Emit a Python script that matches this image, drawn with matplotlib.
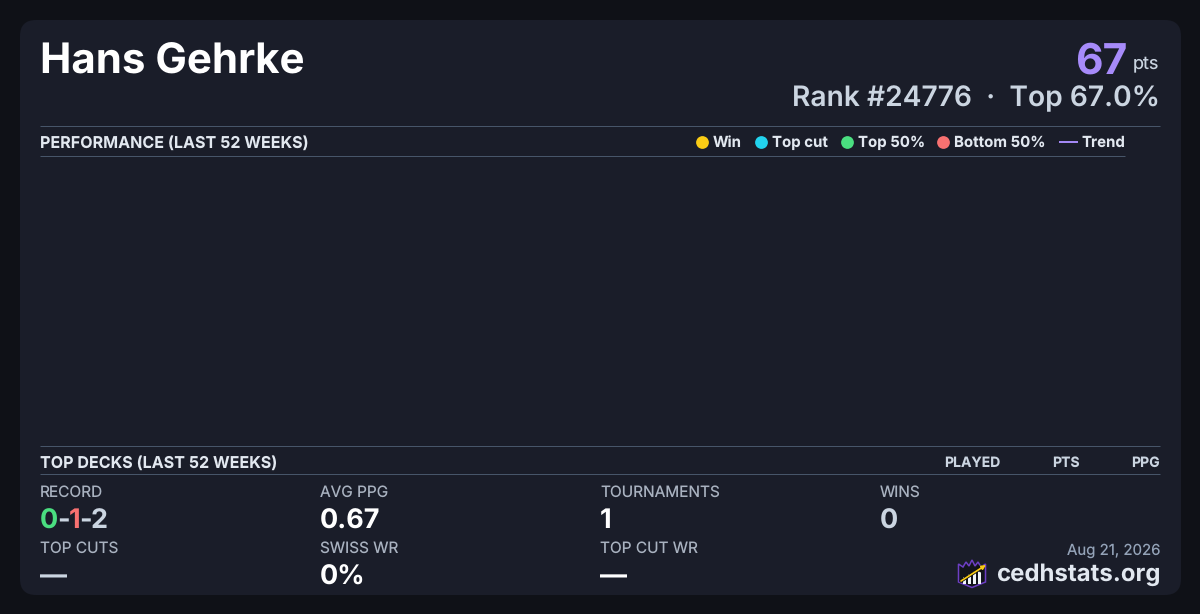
import matplotlib
matplotlib.use("Agg")
import matplotlib.pyplot as plt
from matplotlib.patches import FancyBboxPatch, Polygon, Rectangle

plt.rcParams['font.family'] = ['Inter', 'DejaVu Sans']
plt.rcParams['text.hinting'] = 'no_hinting'
plt.rcParams['text.hinting_factor'] = 1

player = "Hans Gehrke"
points = "67"
rank_line = "Rank #24776  ·  Top 67.0%"
legend_labels = ["Win", "Top cut", "Top 50%", "Bottom 50%"]
legend_colors = ["#facc15", "#22d3ee", "#4ade80", "#f87171"]
legend_x = [702, 761, 847, 943]
table_cols = ["PLAYED", "PTS", "PPG"]
table_right = [1000, 1080, 1160]
stat_labels = ["RECORD", "AVG PPG", "TOURNAMENTS", "WINS", "TOP CUTS", "SWISS WR", "TOP CUT WR"]
stat_values = [None, "0.67", "1", "0", "—", "0%", "—"]
stat_colors = [None, "#ffffff", "#ffffff", "#cbd5e1", "#cbd5e1", "#ffffff", "#ffffff"]
stat_x = [40, 320, 600, 880, 40, 320, 600]
stat_row = [0, 0, 0, 0, 1, 1, 1]
label_y = [497, 553]
value_y = [528.5, 584.5]
logo_bars = [7, 10, 13, 16]

BG = "#0f1117"
CARD = "#1a1d29"
RULE = "#475569"
HEAD = "#e2e8f0"
MUTED = "#94a3b8"
LABEL = "#a9b2c0"
PURPLE = "#a78bfa"

fig = plt.figure(figsize=(12, 6.14), dpi=100, facecolor=BG)
ax = fig.add_axes([0, 0, 1, 1])
ax.set_xlim(0, 1200)
ax.set_ylim(614, 0)
ax.axis("off")

ax.add_patch(FancyBboxPatch((20 + 16, 20 + 16), 1161 - 32, 575 - 32,
                            boxstyle="round,pad=16,rounding_size=16",
                            fc=CARD, ec="none"))


def px(size):
    return size * 0.72


def t(x, y, s, size, color, weight="normal", ha="left", va="baseline"):
    return ax.text(x, y, s, fontsize=px(size), color=color, fontweight=weight,
                   ha=ha, va=va)


t(40, 74, player, 42, "#ffffff", "bold")
t(1127.5, 73.5, points, 42.5, PURPLE, "bold", ha="right")
t(1159.5, 68, "pts", 18, "#cbd5e1", ha="right")
t(1160, 106, rank_line, 28.2, "#cbd5e1", "semibold", ha="right")

for x0, x1, y in [(40, 1160, 126), (40, 1125, 156), (40, 1160, 446), (40, 1160, 474)]:
    ax.plot([x0, x1], [y, y], color=RULE, lw=0.72, solid_capstyle="butt")

t(40, 148, "PERFORMANCE (LAST 52 WEEKS)", 16.1, HEAD, "bold")
t(40, 468, "TOP DECKS (LAST 52 WEEKS)", 16.1, HEAD, "bold")

for x, lab, col in zip(legend_x, legend_labels, legend_colors):
    ax.plot([x], [142], marker="o", ms=9.2, color=col, mew=0)
    t(x + 10.5, 147, lab, 15, HEAD, "bold")
ax.plot([1059, 1078], [142, 142], color=PURPLE, lw=1.4, solid_capstyle="butt")
t(1081, 147, "Trend", 15, HEAD, "bold")

for x, lab in zip(table_right, table_cols):
    t(x, 467, lab, 14, "#cbd5e1", "bold", ha="right")

for x, row, lab, val, col in zip(stat_x, stat_row, stat_labels, stat_values, stat_colors):
    t(x, label_y[row], lab, 15.4, LABEL)
    if val is not None:
        t(x, value_y[row], val, 27, col, "bold")

# record value, one colour per part
cx = 40
for part, col in [("0", "#4ade80"), ("-", "#cbd5e1"), ("1", "#f87171"), ("-", "#cbd5e1"), ("2", "#cbd5e1")]:
    txt = t(cx, value_y[0], part, 27, col, "bold")
    fig.canvas.draw()
    cx += txt.get_window_extent().width - 1.1

t(1160, 555, "Aug 21, 2026", 15, MUTED, ha="right")
t(1160.5, 581, "cedhstats.org", 24, HEAD, "bold", ha="right")

# logo: shield with crown, bars and arrow
shield = [(958.5, 570), (958.5, 564), (963, 567), (966, 562), (969, 566), (972, 560), (975, 566),
          (978, 562), (981, 567), (985.5, 564), (985.5, 582), (972, 587.5), (958.5, 582)]
ax.add_patch(Polygon(shield, closed=True, fc="#12141c", ec="#6d3fc4", lw=1.1))
for i, h in enumerate(logo_bars):
    ax.add_patch(Rectangle((963 + i * 5, 584 - h), 3.4, h, fc="#f1f5f9", ec="none"))
ax.annotate("", xy=(986, 565), xytext=(961, 581),
            arrowprops=dict(arrowstyle="-|>", color="#111111", lw=2.4, mutation_scale=7,
                            shrinkA=0, shrinkB=0))
ax.annotate("", xy=(986, 565), xytext=(961, 581),
            arrowprops=dict(arrowstyle="-|>", color="#facc15", lw=1.2, mutation_scale=6,
                            shrinkA=0, shrinkB=0))

fig.savefig("out.png", dpi=100, facecolor=BG)
